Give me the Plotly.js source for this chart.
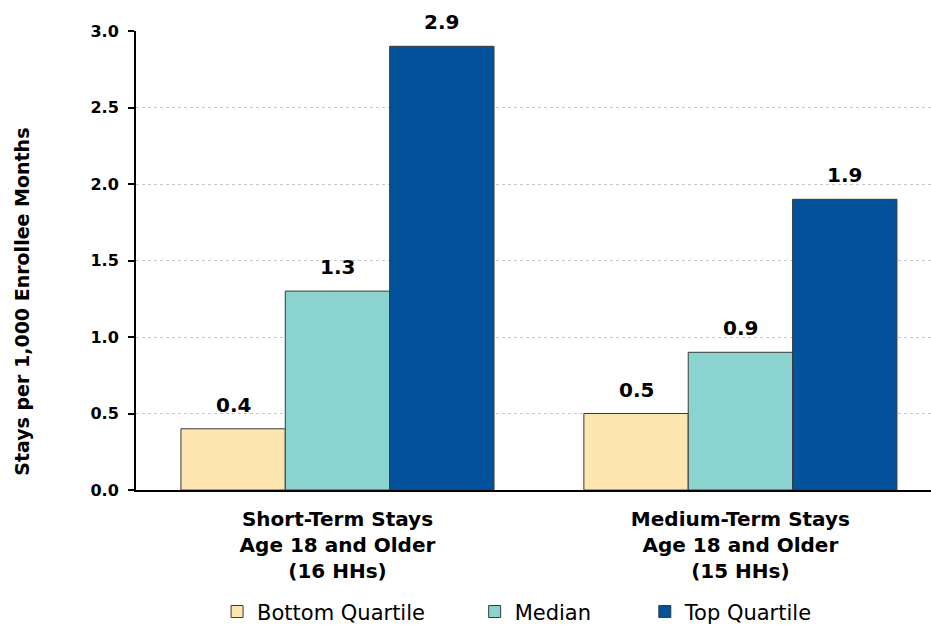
<!DOCTYPE html>
<html>
<head>
<meta charset="utf-8">
<script src="https://cdn.plot.ly/plotly-3.0.1.min.js"></script>
<style>html,body{margin:0;padding:0;background:#fff;}#chart{width:931px;height:625px;}</style>
</head>
<body>
<div id="chart"></div>
<script>
var categories = ["Short-Term Stays<br>Age 18 and Older<br>(16 HHs)", "Medium-Term Stays<br>Age 18 and Older<br>(15 HHs)"];
var seriesNames = ["Bottom Quartile", "Median", "Top Quartile"];
var bottomQuartile = [0.4, 0.5];
var median = [1.3, 0.9];
var topQuartile = [2.9, 1.9];
var colors = ["#FDE6B0", "#8AD3CE", "#02529C"];
var yTicks = [0, 0.5, 1.0, 1.5, 2.0, 2.5, 3.0];
var yTitle = "Stays per 1,000 Enrollee Months";

var values = [bottomQuartile, median, topQuartile];
var font = "DejaVu Sans, sans-serif";
var bargap = 0.223;
var barW = (1 - bargap) / 3;
var legendIds = ["legend", "legend2", "legend3"];
var legendX = [0.102, 0.426, 0.640];

var traces = values.map(function(v, i) {
  return {
    type: "bar",
    name: seriesNames[i],
    x: categories,
    y: v,
    legend: legendIds[i],
    marker: {color: colors[i], line: {color: "#3a3a3a", width: 1}},
    hoverinfo: "none"
  };
});

var annotations = [];
values.forEach(function(v, i) {
  v.forEach(function(d, j) {
    annotations.push({
      x: j + (i - 1) * barW, y: d, xref: "x", yref: "y",
      text: d.toFixed(1), showarrow: false,
      yanchor: "bottom", yshift: 10,
      font: {family: font, size: 20, color: "#000", weight: "bold"}
    });
  });
});
annotations.push({
  x: -0.1434, y: 0.41, xref: "paper", yref: "paper",
  xanchor: "center", yanchor: "middle",
  text: yTitle, textangle: -90, showarrow: false,
  font: {family: font, size: 19, color: "#000", weight: "bold"}
});

var layout = {
  width: 931, height: 625,
  margin: {l: 136, r: 0, t: 31, b: 135, autoexpand: false},
  paper_bgcolor: "#fff", plot_bgcolor: "#fff",
  barmode: "group",
  bargap: bargap,
  bargroupgap: 0,
  showlegend: true,
  annotations: annotations,
  xaxis: {
    type: "category",
    range: [-0.5, 1.473],
    tickfont: {family: font, size: 20, color: "#000", weight: "bold"},
    ticklabelstandoff: 10,
    showline: true, linecolor: "#000", linewidth: 2,
    ticks: "", showgrid: false, fixedrange: true
  },
  yaxis: {
    range: [0, 3.0],
    tickvals: yTicks,
    ticktext: yTicks.map(function(d){ return d.toFixed(1); }),
    tickfont: {family: font, size: 16, color: "#000", weight: "bold"},
    ticks: "outside", ticklen: 6, tickwidth: 2, tickcolor: "#000",
    ticklabelstandoff: 6,
    showline: true, linecolor: "#000", linewidth: 2,
    showgrid: true, gridcolor: "#c8c8c8", gridwidth: 1, griddash: "dot",
    zeroline: false
  }
};
legendIds.forEach(function(id, i) {
  layout[id] = {orientation: "h", x: legendX[i], xanchor: "left",
                yref: "container", y: 0.021, yanchor: "middle",
                font: {family: font, size: 21, color: "#000"},
                itemwidth: 30, bgcolor: "rgba(0,0,0,0)"};
});

Plotly.newPlot("chart", traces, layout, {displayModeBar: false, staticPlot: true});
</script>
</body>
</html>
